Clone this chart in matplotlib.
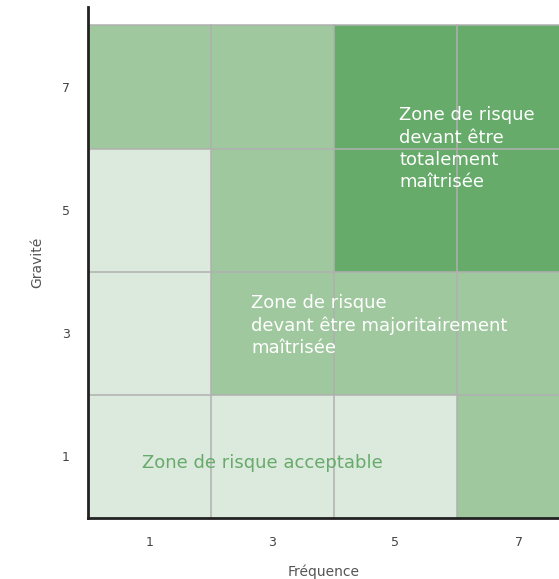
import matplotlib
matplotlib.use("Agg")
import matplotlib.pyplot as plt
from matplotlib.colors import ListedColormap
import numpy as np

# Data
x_ticks = [1, 3, 5, 7]
y_ticks = [1, 3, 5, 7]
x_edges = [0, 2, 4, 6, 8]
y_edges = [0, 2, 4, 6, 8]
# risk level per cell (rows from bottom to top): 0 acceptable, 1 majority, 2 total
levels = [
    [0, 0, 0, 1],
    [0, 1, 1, 1],
    [0, 1, 2, 2],
    [1, 1, 2, 2],
]
zone_labels = ["Zone de risque acceptable",
               "Zone de risque\ndevant être majoritairement\nmaîtrisée",
               "Zone de risque\ndevant être\ntotalement\nmaîtrisée"]
zone_pos = [(0.88, 0.89), (2.65, 3.12), (5.06, 6.0)]

colors = ["#dce9dd", "#9fc89f", "#66ab6a"]
text_colors = ["#66ab6a", "white", "white"]

FONT = ["DejaVu Sans"]
plt.rcParams['font.family'] = FONT

fig = plt.figure(figsize=(5.59, 5.79), dpi=100)
ax = fig.add_axes([88/559, 61/579, 1 - 88/559, (518-7)/579])

cmap = ListedColormap(colors)
ax.pcolormesh(x_edges, y_edges, np.array(levels), cmap=cmap, vmin=-0.5, vmax=2.5,
              shading="flat", zorder=0)

for v in x_edges[1:-1]:
    ax.axvline(v, ymax=8/8.3, color="#b0b0b0", lw=1.1, zorder=1)
for v in y_edges[1:]:
    ax.axhline(v, color="#b0b0b0", lw=1.1, zorder=1)

for lab, (px, py), tc in zip(zone_labels, zone_pos, text_colors):
    ax.text(px, py, lab, color=tc, fontsize=13, ha="left", va="center",
            linespacing=1.3, zorder=3)

ax.set_xlim(0, 471/61.5)
ax.set_ylim(0, 8.3)
ax.set_xticks(x_ticks)
ax.set_yticks(y_ticks)
ax.tick_params(length=0, pad=13, labelsize=9, labelcolor="#444444")
for s in ["top", "right"]:
    ax.spines[s].set_visible(False)
for s in ["left", "bottom"]:
    ax.spines[s].set_linewidth(2)
    ax.spines[s].set_color("#222222")
    ax.spines[s].set_zorder(4)
ax.set_xlabel("Fréquence", fontsize=10, color="#555555", labelpad=11)
ax.set_ylabel("Gravité", fontsize=10, color="#555555", labelpad=13)

fig.savefig("out.png", dpi=100)
